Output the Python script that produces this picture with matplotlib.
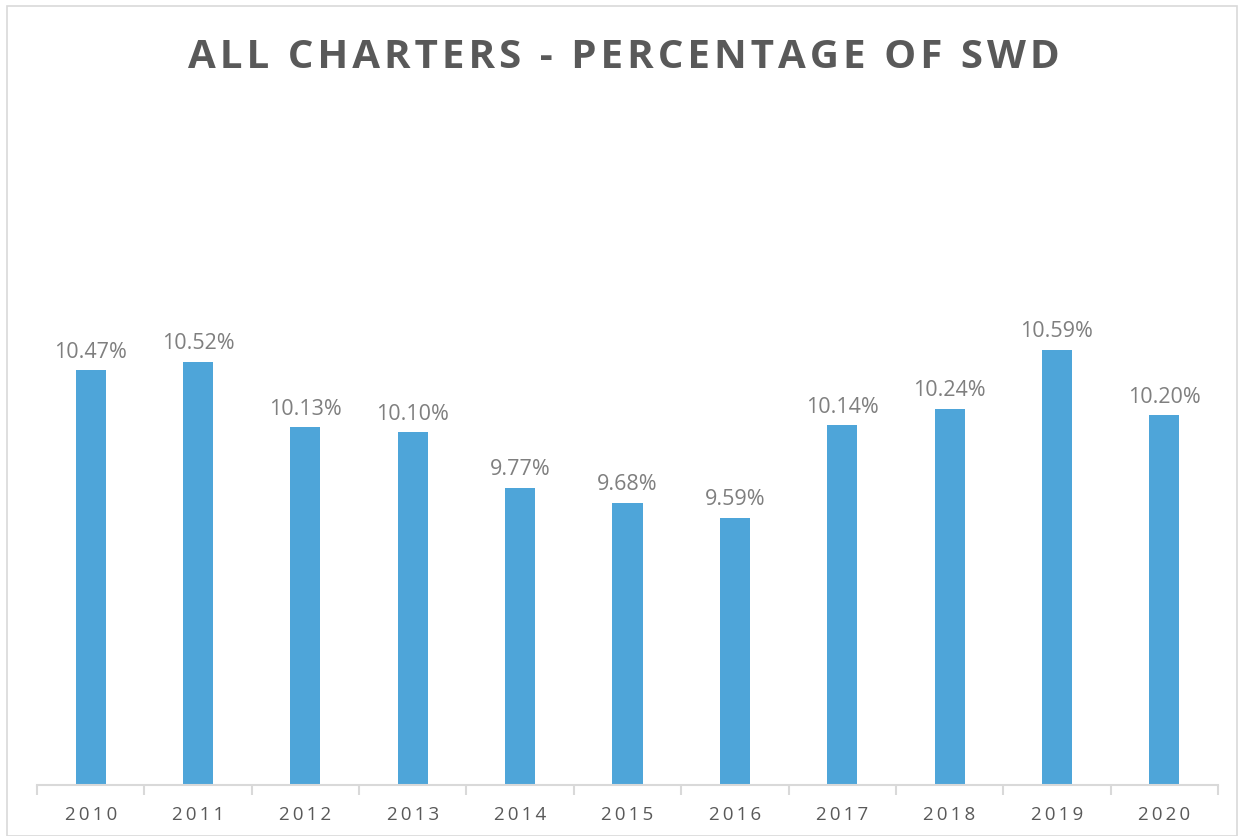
import matplotlib.pyplot as plt
from matplotlib.patches import Rectangle

years = ['2010', '2011', '2012', '2013', '2014', '2015', '2016', '2017', '2018', '2019', '2020']
pct_swd = [10.47, 10.52, 10.13, 10.10, 9.77, 9.68, 9.59, 10.14, 10.24, 10.59, 10.20]

plt.rcParams['font.family'] = ['Open Sans', 'DejaVu Sans']

fig = plt.figure(figsize=(12.44, 8.37), dpi=100)
ax = fig.add_axes([37 / 1244, 51 / 837, (1218 - 37) / 1244, 672 / 837])

x = range(len(years))
ax.bar(x, pct_swd, width=0.28, color='#4EA5D9', zorder=2)
ax.set_ylim(8, 12)
ax.set_xlim(-0.5, len(years) - 0.5)

# data labels above each bar
for i, v in enumerate(pct_swd):
    ax.text(i, v + 0.05, f'{v:.2f}%', ha='center', va='bottom',
            fontsize=15.5, color='#7F7F7F')

ax.set_yticks([])
ax.set_xticks([i + 0.5 for i in range(-1, len(years))])
ax.set_xticklabels([])
ax.tick_params(axis='x', length=7, color='#D9D9D9', width=1.5, direction='out')
for i, y in enumerate(years):
    ax.text(i, 7.88, '\u2009'.join(y), ha='center', va='top',
            fontsize=13.5, color='#595959')

for side in ['top', 'right', 'left']:
    ax.spines[side].set_visible(False)
ax.spines['bottom'].set_color('#D9D9D9')
ax.spines['bottom'].set_linewidth(1.5)
ax.spines['bottom'].set_zorder(3)

title = 'ALL CHARTERS - PERCENTAGE OF SWD'
fig.text(624 / 1244, 1 - 58 / 837, '\u200a'.join(title),
         ha='center', va='center', fontsize=29, fontweight='bold', color='#595959')

# light frame round the chart
fig.patches.append(Rectangle((7 / 1244, 0), 1 - 14 / 1244, 1 - 7 / 837, transform=fig.transFigure,
                             fill=False, edgecolor='#D9D9D9', linewidth=1.2))

fig.savefig('out.png', dpi=100, facecolor='white')
